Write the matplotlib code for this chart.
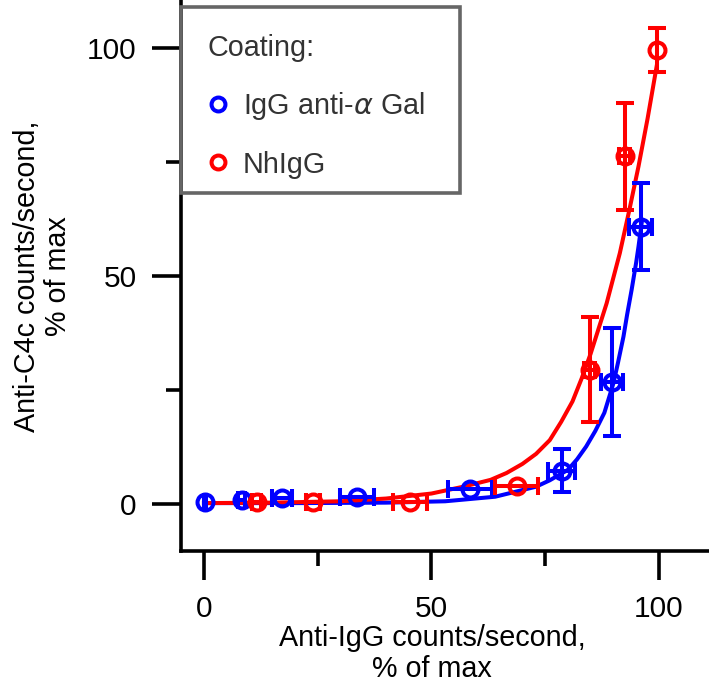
import numpy as np
import matplotlib.pyplot as plt
from matplotlib.lines import Line2D
from matplotlib.patches import Rectangle

plt.rcParams['font.family'] = ['Liberation Sans', 'DejaVu Sans']
plt.rcParams['mathtext.fontset'] = 'dejavusans'

nan = np.nan

# measured points, % of max (nan = no visible error bar)
blue_x = [0.2, 8.3, 17.1, 33.6, 58.5, 78.6, 89.7, 96.0]
blue_y = [0.5, 0.9, 1.3, 1.6, 3.4, 7.3, 26.8, 60.8]
blue_xerr = [0.3, 0.8, 2.2, 3.8, 4.8, 3.0, 2.4, 2.5]
blue_yerr = [nan, nan, nan, nan, nan, 4.7, 11.8, 9.5]

red_x = [11.6, 24.0, 45.3, 68.7, 84.8, 92.5, 99.5]
red_y = [0.5, 0.5, 0.5, 4.0, 29.4, 76.2, 99.6]
red_xerr = [1.0, 1.5, 3.7, 4.8, 1.2, 1.2, nan]
red_yerr = [nan, nan, nan, nan, 11.5, 11.7, 4.8]

# fitted curves
blue_fit_x = [0, 20, 40, 53, 64, 73, 76, 80, 82, 84, 86, 88, 90, 91, 92.2, 93, 94, 95, 95.5, 96.2]
blue_fit_y = [0.2, 0.2, 0.3, 0.6, 1.6, 3.8, 5.2, 7.5, 9.8, 12.6, 16, 20, 26.5, 31, 36.7, 41.5, 47, 53, 56.4, 61.6]
red_fit_x = [0, 15, 30, 40, 50, 57, 63, 66.5, 70, 73, 76, 78.5, 81, 83, 85, 88.5, 91.4, 93.5, 95.5, 97.5, 99.5]
red_fit_y = [0.2, 0.3, 0.6, 1.2, 2.3, 3.8, 5.3, 6.8, 8.8, 11, 14, 18, 22.5, 27.5, 33, 44, 55, 64.5, 74, 84.5, 96]

blue = '#0000ff'
red = '#ff0000'
lw = 2.9

fig = plt.figure(figsize=(7.09, 6.88), dpi=100)
ax = fig.add_axes([181 / 709, 1 - 551 / 688, 528 / 709, 551 / 688])

ax.plot(blue_fit_x, blue_fit_y, color=blue, lw=lw, zorder=2)
ax.plot(red_fit_x, red_fit_y, color=red, lw=lw, zorder=2)

ax.errorbar(blue_x, blue_y, xerr=blue_xerr, yerr=blue_yerr, fmt='o', ms=11.5,
            mfc='none', mec=blue, mew=lw, ecolor=blue, elinewidth=lw,
            capsize=6.5, capthick=lw, zorder=3)
ax.errorbar(red_x, red_y, xerr=red_xerr, yerr=red_yerr, fmt='o', ms=11.5,
            mfc='none', mec=red, mew=lw, ecolor=red, elinewidth=lw,
            capsize=6.5, capthick=lw, zorder=4)

ax.set_xlim(-5.05, 111)
ax.set_ylim(-10.3, 110.5)
ax.set_xticks([0, 50, 100])
ax.set_yticks([0, 50, 100])
ax.set_xticks([25, 75], minor=True)
ax.set_yticks([25, 75], minor=True)

for s in ['top', 'right']:
    ax.spines[s].set_visible(False)
for s in ['left', 'bottom']:
    ax.spines[s].set_linewidth(2.6)

ax.tick_params(which='major', direction='out', length=21, width=2.6,
               labelsize=21.5, pad=11)
ax.tick_params(which='minor', direction='out', length=11, width=2.6)

ax.set_xlabel('Anti-IgG counts/second,\n% of max', fontsize=20.7, linespacing=1.12)
ax.xaxis.label.set_verticalalignment('center')
ax.xaxis.set_label_coords(0.4754, -0.186)
ax.set_ylabel('Anti-C4c counts/second,\n% of max', fontsize=20.7, linespacing=1.12)
ax.yaxis.label.set_verticalalignment('center')
ax.yaxis.set_label_coords(-0.2623, 0.499)

# legend frame
fig.add_artist(Rectangle((181 / 709, 1 - 193 / 688), (460 - 181) / 709, (193 - 7) / 688,
                         transform=fig.transFigure, facecolor='none',
                         edgecolor='#666666', lw=2.6, zorder=5))

handles = [
    Line2D([], [], ls='none', marker='o', ms=10, mfc='none', mec=blue, mew=lw),
    Line2D([], [], ls='none', marker='o', ms=10, mfc='none', mec=red, mew=lw),
]
leg = ax.legend(handles, [r'IgG anti-$\alpha$ Gal', 'NhIgG'], title='Coating:',
                loc='upper left', bbox_to_anchor=(177.7 / 709, 1 - 4 / 688),
                bbox_transform=fig.transFigure,
                fontsize=20.7, title_fontsize=20.7, alignment='left',
                frameon=False, borderpad=1.05, labelspacing=0.98,
                handlelength=0.67, handletextpad=0.54, borderaxespad=0.0)
leg.get_title().set_color('#333333')
for t in leg.get_texts():
    t.set_color('#333333')

fig.savefig('out.png', dpi=100)
